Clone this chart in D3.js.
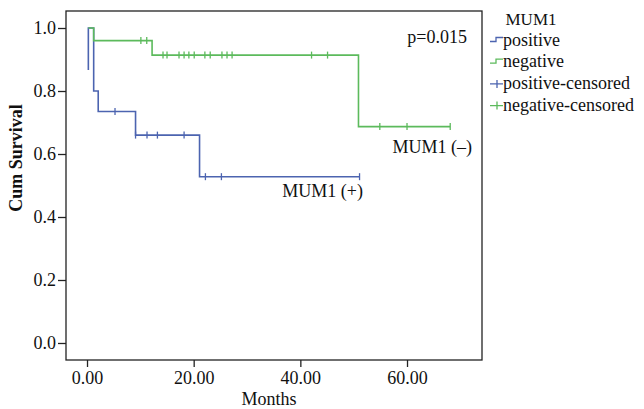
<!DOCTYPE html>
<html>

<head>
    <script src="https://d3js.org/d3.v7.min.js"></script>
    <style>
        body { margin: 0; background: #fff; }
        text { font-family: "Liberation Serif", "Times New Roman", serif; fill: #111; }
    </style>
</head>

<body>
    <svg id="mysvg" width="644" height="409"></svg>
    <script>
        // step points of each curve [months, cum survival]
        var positiveCurve = [[0.25, 0.867], [0.25, 1.0], [1.25, 0.80], [2.1, 0.735], [9.1, 0.66], [21.1, 0.528], [51.1, 0.528]];
        var negativeCurve = [[0.25, 1.0], [1.25, 0.96], [12.2, 0.914], [50.9, 0.687], [68.1, 0.687]];

        // censored cases [months, cum survival]
        var positiveCensored = [[5.25, 0.735], [9.1, 0.66], [11.25, 0.66], [13.2, 0.66], [18.2, 0.66],
            [22.2, 0.528], [25.2, 0.528], [51.1, 0.528]];
        var negativeCensored = [[10.1, 0.96], [11.2, 0.96],
            [14.25, 0.914], [15.0, 0.914], [17.25, 0.914], [18.2, 0.914], [19.1, 0.914], [20.1, 0.914],
            [22.1, 0.914], [23.1, 0.914], [25.3, 0.914], [26.25, 0.914], [27.2, 0.914], [42.1, 0.914], [45.1, 0.914],
            [54.9, 0.687], [60.0, 0.687], [68.1, 0.687]];

        var xTicks = [0, 20, 40, 60];
        var yTicks = [0, 0.2, 0.4, 0.6, 0.8, 1.0];
        var legendLabels = ["positive", "negative", "positive-censored", "negative-censored"];

        var blue = "#4c64b0";
        var green = "#5cba5c";

        var svg = d3.select("svg");
        var plot = { left: 66, right: 482, top: 11, bottom: 360 };

        var xScale = d3.scaleLinear().domain([-3.94, 74.06]).range([plot.left, plot.right]);
        var yScale = d3.scaleLinear().domain([-0.054, 1.054]).range([plot.bottom, plot.top]);

        // frame
        svg.append("rect")
            .attr("x", plot.left).attr("y", plot.top)
            .attr("width", plot.right - plot.left).attr("height", plot.bottom - plot.top)
            .attr("fill", "none").attr("stroke", "#222").attr("stroke-width", 1.3);

        // axes
        var xAxis = d3.axisBottom(xScale).tickValues(xTicks).tickSize(7).tickPadding(4)
            .tickFormat(d3.format(".2f"));
        var yAxis = d3.axisLeft(yScale).tickValues(yTicks).tickSize(8).tickPadding(2)
            .tickFormat(d3.format(".1f"));

        var gx = svg.append("g").attr("transform", "translate(0," + plot.bottom + ")").call(xAxis);
        var gy = svg.append("g").attr("transform", "translate(" + plot.left + ",0)").call(yAxis);
        [gx, gy].forEach(function (g) {
            g.select(".domain").remove();
            g.selectAll("line").attr("stroke", "#222").attr("stroke-width", 1.3);
            g.selectAll("text").style("font-family", "Liberation Serif").style("font-size", "18px").attr("fill", "#111");
        });

        svg.append("text")
            .attr("x", 269).attr("y", 405)
            .attr("text-anchor", "middle")
            .style("font-size", "18px")
            .text("Months");

        svg.append("text")
            .attr("transform", "translate(22,158) rotate(-90)")
            .attr("text-anchor", "middle")
            .style("font-size", "18px").style("font-weight", "bold")
            .text("Cum Survival");

        // curves
        var line = d3.line()
            .x(function (d) { return xScale(d[0]); })
            .y(function (d) { return yScale(d[1]); })
            .curve(d3.curveStepAfter);

        svg.append("path").datum(positiveCurve)
            .attr("d", line).attr("fill", "none").attr("stroke", blue).attr("stroke-width", 1.6);
        svg.append("path").datum(negativeCurve)
            .attr("d", line).attr("fill", "none").attr("stroke", green).attr("stroke-width", 1.6);

        function censorMarks(data, color) {
            svg.append("g").selectAll("line")
                .data(data)
                .enter()
                .append("line")
                .attr("x1", function (d) { return xScale(d[0]); })
                .attr("x2", function (d) { return xScale(d[0]); })
                .attr("y1", function (d) { return yScale(d[1]) - 3.5; })
                .attr("y2", function (d) { return yScale(d[1]) + 3.5; })
                .attr("stroke", color).attr("stroke-width", 1.3);
        }
        censorMarks(positiveCensored, blue);
        censorMarks(negativeCensored, green);

        // annotations
        svg.append("text").attr("x", 467).attr("y", 43).attr("text-anchor", "end")
            .style("font-size", "18px").text("p=0.015");
        svg.append("text").attr("x", 472).attr("y", 153).attr("text-anchor", "end")
            .style("font-size", "18px").text("MUM1 (\u2013)");
        svg.append("text").attr("x", 363).attr("y", 197).attr("text-anchor", "end")
            .style("font-size", "18px").text("MUM1 (+)");

        // legend
        var legend = svg.append("g");
        legend.append("text").attr("x", 531).attr("y", 25).attr("text-anchor", "middle")
            .style("font-size", "17px").text("MUM1");

        var legendColors = [blue, green, blue, green];
        legendLabels.forEach(function (label, i) {
            var y = 45.5 + i * 21.7;
            var c = legendColors[i];
            if (i < 2) {
                legend.append("path")
                    .attr("d", "M490," + (y - 4) + "H496V" + (y - 8) + "H503")
                    .attr("fill", "none").attr("stroke", c).attr("stroke-width", 1.3);
            } else {
                legend.append("path")
                    .attr("d", "M490," + (y - 5) + "H503M497," + (y - 9) + "V" + (y - 1))
                    .attr("fill", "none").attr("stroke", c).attr("stroke-width", 1.3);
            }
            legend.append("text").attr("x", 503).attr("y", y)
                .style("font-size", "18px").text(label);
        });
    </script>
</body>

</html>
